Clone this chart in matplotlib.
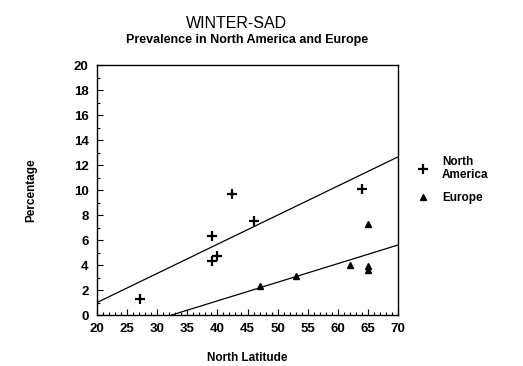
import matplotlib
matplotlib.use("Agg")
import matplotlib.pyplot as plt
from matplotlib.ticker import MultipleLocator

# North America (+)
na_lat = [27.1, 39.1, 39.1, 40.0, 42.5, 46.0, 64.0]
na_pct = [1.3, 6.3, 4.3, 4.7, 9.7, 7.5, 10.1]

# Europe (triangles)
eu_lat = [47.1, 53.0, 62.0, 65.0, 65.0, 65.0]
eu_pct = [2.3, 3.1, 4.0, 7.3, 3.9, 3.6]

# regression lines (end points)
na_fit_x = [20, 70]
na_fit_y = [1.0, 12.65]
eu_fit_x = [32.4, 70]
eu_fit_y = [0.0, 5.6]

plt.rcParams['font.family'] = 'Liberation Sans'

fig = plt.figure(figsize=(5.23, 3.66), dpi=100)
ax = fig.add_axes([0.1855, 0.1393, 0.5755, 0.6831])

ax.plot(na_fit_x, na_fit_y, color="black", linewidth=0.9)
ax.plot(eu_fit_x, eu_fit_y, color="black", linewidth=0.9)
ax.plot(na_lat, na_pct, linestyle="none", marker="+", markersize=7,
        markeredgewidth=1.6, color="black", label="North\nAmerica")
ax.plot(eu_lat, eu_pct, linestyle="none", marker="^", markersize=5,
        color="black", label="Europe")

ax.set_xlim(20, 70)
ax.set_ylim(0, 20)
ax.xaxis.set_major_locator(MultipleLocator(5))
ax.xaxis.set_minor_locator(MultipleLocator(1))
ax.yaxis.set_major_locator(MultipleLocator(2))
ax.yaxis.set_minor_locator(MultipleLocator(1))
ax.tick_params(which="both", direction="in", top=False, right=False, width=0.8)
ax.tick_params(which="major", length=4, labelsize=9.5, pad=6)
ax.tick_params(which="minor", length=2)
for lab in ax.get_xticklabels() + ax.get_yticklabels():
    lab.set_fontweight("bold")
for s in ax.spines.values():
    s.set_linewidth(1.0)

ax.set_xlabel("North Latitude", fontsize=8.5, fontweight="bold", labelpad=12)
ax.set_ylabel("Percentage", fontsize=8.5, fontweight="bold", labelpad=26)

fig.text(0.453, 0.937, "WINTER-SAD", ha="center", va="center", fontsize=11.5)
fig.text(0.473, 0.892, "Prevalence in North America and Europe", ha="center",
         va="center", fontsize=9, fontweight="bold")

ax.legend(loc="upper left", bbox_to_anchor=(1.025, 0.68), frameon=False,
          handlelength=1.2, handletextpad=1.0, labelspacing=0.9,
          prop={"weight": "bold", "size": 8.5})

fig.savefig("out.png", dpi=100)
